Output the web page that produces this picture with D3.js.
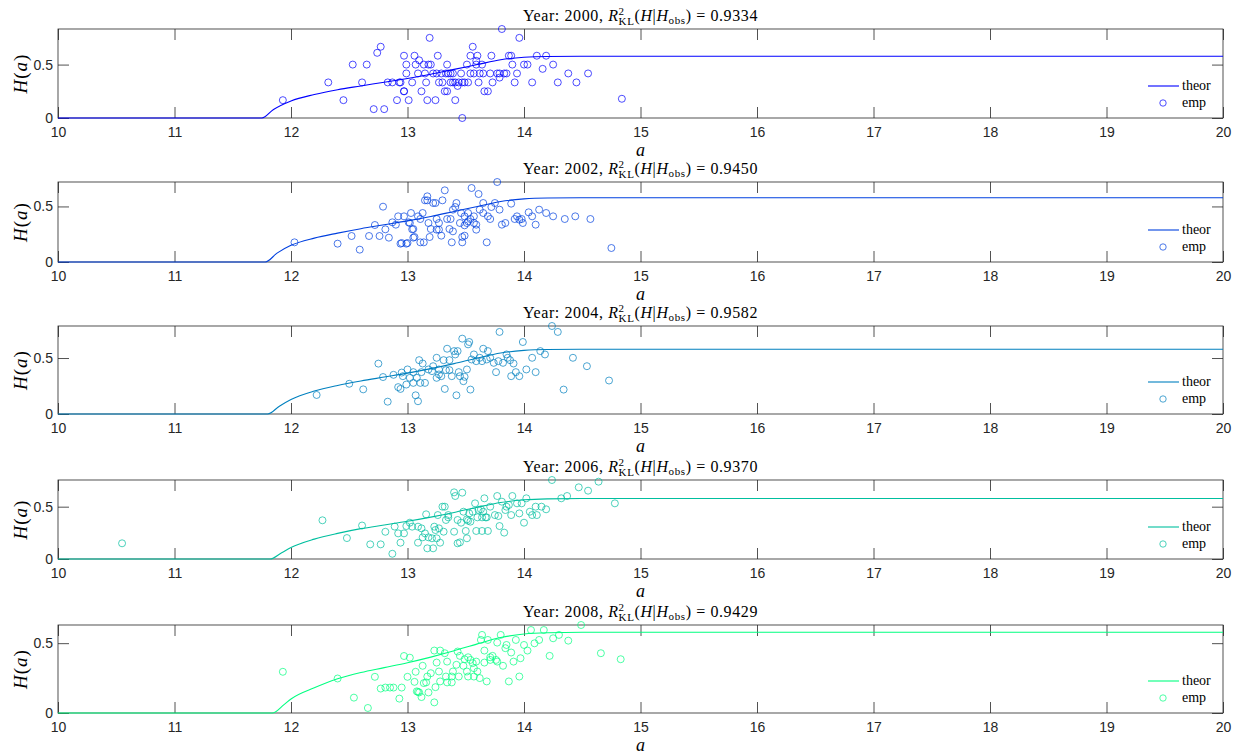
<!DOCTYPE html>
<html lang="en">
<head>
<meta charset="UTF-8">
<title>H(a) theor vs emp</title>
<script src="https://d3js.org/d3.v7.min.js"></script>
<style>
  body { margin: 0; background: white; }
  svg { display: block; }
  .tick text { font-family: "Liberation Sans", Arial, sans-serif; font-size: 14px; fill: #262626; }
  .tick line { stroke: #262626; stroke-width: 0.8; }
  .serif { font-family: "Liberation Serif", "Times New Roman", serif; fill: #000; }
</style>
</head>
<body>
<script>
// years, fit scores and colours for each panel
const years = [2000, 2002, 2004, 2006, 2008];
const r2 = ["0.9334", "0.9450", "0.9582", "0.9370", "0.9429"];
const colors = ["#0000ff", "#0040df", "#0080bf", "#00bf9f", "#00ff80"];
const xTicks = [10, 11, 12, 13, 14, 15, 16, 17, 18, 19, 20];
const yTicks = [0, 0.5];

// theoretical curves [a, H]
const theor2000 = [[10,0],[11.75,0],[11.85,0.08],[12,0.16],[12.2,0.22],[12.4,0.265],[12.6,0.30],[12.8,0.335],[13,0.37],[13.2,0.41],[13.4,0.455],[13.6,0.50],[13.8,0.545],[14,0.568],[14.2,0.576],[14.5,0.578],[15,0.578],[20,0.578]];
const theor2002 = [[10,0],[11.78,0],[11.88,0.08],[12,0.15],[12.2,0.215],[12.4,0.26],[12.6,0.30],[12.8,0.335],[13,0.37],[13.2,0.41],[13.4,0.455],[13.6,0.50],[13.8,0.545],[14,0.568],[14.2,0.576],[14.5,0.578],[15,0.578],[20,0.578]];
const theor2004 = [[10,0],[11.80,0],[11.9,0.07],[12,0.13],[12.2,0.205],[12.4,0.255],[12.6,0.295],[12.8,0.33],[13,0.365],[13.2,0.405],[13.4,0.45],[13.6,0.50],[13.8,0.545],[14,0.568],[14.2,0.576],[14.5,0.578],[15,0.578],[20,0.578]];
const theor2006 = [[10,0],[11.82,0],[11.92,0.06],[12,0.11],[12.2,0.19],[12.4,0.245],[12.6,0.29],[12.8,0.325],[13,0.36],[13.2,0.40],[13.4,0.445],[13.6,0.495],[13.8,0.54],[14,0.566],[14.2,0.575],[14.5,0.578],[15,0.578],[20,0.578]];
const theor2008 = [[10,0],[11.84,0],[11.94,0.06],[12,0.10],[12.2,0.18],[12.4,0.245],[12.6,0.29],[12.8,0.325],[13,0.36],[13.2,0.40],[13.4,0.445],[13.6,0.495],[13.8,0.54],[14,0.566],[14.2,0.575],[14.5,0.578],[15,0.578],[20,0.578]];

// empirical points [a, H]
const emp2000 = [[11.93,0.167],[12.32,0.333],[12.45,0.167],[12.53,0.5],[12.61,0.333],[12.65,0.5],[12.71,0.083],[12.74,0.61],[12.77,0.667],[12.80,0.083],[12.83,0.333],[12.87,0.333],[12.93,0.333],[12.91,0.167],[12.97,0.25],[12.97,0.583],[12.99,0.5],
  [13.81,0.833],[13.19,0.75],[13.96,0.75],[13.56,0.667],[13.06,0.583],[13.26,0.583],[13.54,0.583],[13.60,0.583],[13.72,0.583],[13.87,0.583],[13.89,0.583],[14.11,0.583],[14.19,0.583],[13.10,0.54],[13.59,0.535],
  [13.07,0.5],[13.14,0.5],[13.18,0.5],[13.20,0.5],[13.34,0.5],[13.51,0.5],[13.59,0.5],[13.64,0.5],[13.90,0.5],[14.00,0.5],[14.03,0.5],[14.25,0.5],[14.16,0.46],
  [12.99,0.417],[13.09,0.417],[13.15,0.417],[13.22,0.417],[13.25,0.417],[13.29,0.417],[13.33,0.417],[13.35,0.417],[13.37,0.417],[13.39,0.417],[13.46,0.417],[13.54,0.417],[13.57,0.417],[13.62,0.417],[13.65,0.417],[13.71,0.417],[13.77,0.417],[13.79,0.417],[13.83,0.417],[13.85,0.417],[13.94,0.417],[14.38,0.417],[14.55,0.417],
  [13.79,0.378],
  [12.94,0.333],[13.04,0.333],[13.16,0.333],[13.27,0.333],[13.30,0.333],[13.37,0.333],[13.39,0.333],[13.41,0.333],[13.44,0.333],[13.47,0.333],[13.49,0.333],[13.52,0.333],[13.61,0.333],[13.73,0.333],[13.92,0.333],[14.07,0.333],[14.29,0.333],[14.45,0.333],
  [13.43,0.30],
  [12.97,0.25],[13.12,0.25],[13.32,0.25],[13.34,0.25],[13.66,0.25],[13.69,0.25],
  [13.01,0.167],[13.17,0.167],[13.24,0.167],[13.41,0.167],[14.84,0.18],[13.47,0.0]];

const emp2002 = [[12.03,0.177],[12.40,0.165],[12.52,0.234],[12.59,0.111],[12.67,0.234],[12.72,0.333],[12.76,0.234],[12.79,0.498],[12.81,0.294],[12.84,0.219],[12.87,0.357],[12.90,0.336],[12.92,0.411],[12.94,0.165],[12.97,0.411],[12.99,0.165],[13.01,0.357],[13.03,0.441],[13.04,0.294],[13.05,0.219],
  [13.77,0.72],[13.55,0.666],[13.32,0.645],[13.61,0.612],[13.17,0.591],[13.15,0.555],[13.17,0.555],[13.30,0.555],[13.22,0.531],[13.24,0.531],[13.42,0.531],[13.65,0.531],[13.75,0.531],[13.89,0.525],[13.41,0.495],[13.72,0.495],[13.62,0.471],[13.79,0.471],[13.39,0.471],
  [13.13,0.441],[13.46,0.441],[13.52,0.441],[13.65,0.441],[14.04,0.447],[14.13,0.471],[14.19,0.441],[14.25,0.411],[14.35,0.387],[14.44,0.411],[14.57,0.387],
  [13.09,0.411],[13.25,0.387],[13.37,0.387],[13.49,0.411],[13.54,0.387],[13.57,0.411],[13.69,0.411],[13.71,0.387],[13.94,0.411],[13.98,0.387],[14.07,0.411],
  [13.02,0.351],[13.11,0.387],[13.18,0.351],[13.27,0.351],[13.34,0.387],[13.45,0.351],[13.51,0.351],[13.52,0.366],[13.57,0.351],[13.59,0.336],[13.81,0.336],[13.84,0.351],[13.92,0.387],[13.96,0.381],[13.99,0.351],[14.10,0.336],
  [13.05,0.297],[13.20,0.297],[13.25,0.291],[13.27,0.291],[13.36,0.297],[13.39,0.276],[13.49,0.33],[13.59,0.291],
  [13.06,0.225],[13.11,0.177],[13.14,0.177],[13.19,0.225],[13.29,0.237],[13.47,0.225],[13.38,0.177],[13.47,0.177],[13.49,0.237],[12.95,0.171],[13.00,0.171],[13.68,0.177],[14.75,0.126]];

const emp2004 = [[12.22,0.17],[12.50,0.27],[12.62,0.22],[12.75,0.45],[12.79,0.33],[12.83,0.11],[12.88,0.35],[12.92,0.24],[12.95,0.37],
  [14.24,0.786],[14.29,0.733],[13.79,0.733],[13.47,0.673],[13.53,0.643],[13.52,0.622],[13.99,0.643],[13.34,0.583],[13.40,0.562],[13.43,0.562],[13.41,0.532],[13.65,0.583],[13.69,0.562],[14.14,0.562],[14.18,0.532],
  [13.10,0.481],[13.13,0.451],[13.25,0.502],[13.31,0.481],[13.36,0.481],[13.57,0.532],[13.55,0.487],[13.59,0.472],[13.62,0.502],[13.64,0.472],[13.68,0.487],[13.71,0.502],[13.74,0.457],[13.78,0.472],[13.82,0.457],[13.85,0.532],[13.86,0.502],[13.88,0.481],[13.91,0.451],
  [14.07,0.502],[14.42,0.502],[14.54,0.427],[14.73,0.299],[14.34,0.218],[14.02,0.398],[14.10,0.374],
  [13.00,0.398],[13.05,0.374],[13.12,0.374],[13.18,0.398],[13.21,0.383],[13.22,0.427],[13.27,0.353],[13.27,0.398],[13.33,0.392],[13.36,0.392],[13.44,0.374],[13.45,0.338],[13.49,0.332],[13.51,0.398],[13.48,0.293],
  [12.96,0.338],[13.02,0.323],[13.08,0.323],[13.05,0.278],[13.11,0.278],[13.15,0.278],[13.25,0.323],[13.29,0.338],[13.38,0.338],
  [12.94,0.224],[12.99,0.263],[13.32,0.224],[13.54,0.218],[13.42,0.167],[13.07,0.167],[13.09,0.114],[13.76,0.374],[13.89,0.338],[13.96,0.338],[13.93,0.374]];

const emp2006 = [[10.55,0.15],[12.27,0.37],[12.48,0.20],[12.61,0.32],[12.68,0.14],[12.77,0.14],[12.81,0.26],[12.87,0.05],[12.89,0.31],
  [14.24,0.755],[14.64,0.739],[14.47,0.685],[14.55,0.653],[14.32,0.58],[14.37,0.602],[14.78,0.532],[13.40,0.637],[13.41,0.602],[13.47,0.634],[13.30,0.50],[13.32,0.50],
  [13.66,0.58],[13.77,0.602],[13.81,0.548],[13.90,0.602],[13.94,0.532],[13.98,0.532],[14.02,0.58],[13.58,0.532],[13.63,0.475],[13.71,0.50],[13.85,0.50],[13.87,0.516],
  [14.10,0.50],[14.15,0.50],[14.19,0.475],[14.05,0.452],[14.07,0.42],[14.11,0.42],
  [13.16,0.427],[13.26,0.42],[13.35,0.42],[13.48,0.452],[13.53,0.436],[13.56,0.452],[13.61,0.468],[13.65,0.452],[13.68,0.398],[13.75,0.42],[13.84,0.468],
  [13.33,0.373],[13.35,0.398],[13.43,0.373],[13.51,0.379],[13.54,0.357],[13.60,0.398],[13.64,0.398],[13.67,0.398],[13.78,0.411],[13.89,0.42],[13.96,0.436],
  [13.02,0.347],[13.04,0.309],[13.09,0.309],[13.12,0.293],[13.15,0.245],[13.23,0.309],[13.24,0.277],[13.27,0.293],[13.31,0.261],[13.40,0.261],[13.46,0.347],[13.52,0.366],
  [12.92,0.245],[12.97,0.245],[12.99,0.315],[13.13,0.207],[13.18,0.207],[13.21,0.198],[13.25,0.198],[13.28,0.156],[13.09,0.156],
  [13.50,0.268],[13.59,0.268],[13.64,0.268],[13.69,0.268],[13.79,0.315],[13.83,0.252],[14.00,0.347],
  [13.17,0.102],[13.22,0.102],[13.43,0.15],[13.45,0.159],[13.51,0.198],[12.94,0.156]];

const emp2008 = [[11.93,0.295],[12.40,0.247],[12.54,0.11],[12.66,0.036],[12.72,0.259],[12.77,0.175],[12.81,0.182],[12.85,0.182],[12.88,0.182],[12.95,0.182],[12.93,0.103],[12.97,0.408],[13.02,0.396],[13.00,0.259],[13.06,0.223],[13.07,0.295],[13.09,0.151],
  [14.49,0.63],[14.06,0.594],[14.17,0.594],[13.64,0.559],[13.80,0.559],[13.63,0.523],[13.69,0.523],[13.77,0.504],[13.85,0.487],[13.84,0.464],[13.93,0.523],
  [14.00,0.487],[14.03,0.447],[14.09,0.499],[14.13,0.523],[14.25,0.535],[14.30,0.559],[14.38,0.518],[14.66,0.428],[14.83,0.385],[14.22,0.409],
  [13.23,0.447],[13.28,0.447],[13.43,0.44],[13.66,0.447],[13.73,0.409],[13.71,0.399],[13.77,0.368],[13.89,0.433],[13.91,0.368],[13.97,0.392],
  [13.32,0.428],[13.45,0.409],[13.49,0.385],[13.52,0.399],[13.54,0.38],[13.59,0.368],[13.34,0.368],
  [13.13,0.338],[13.25,0.361],[13.42,0.345],[13.48,0.338],[13.56,0.357],[13.66,0.361],[13.71,0.38],[13.76,0.38],[13.82,0.338],
  [13.20,0.285],[13.27,0.297],[13.39,0.297],[13.51,0.297],[13.57,0.321],[13.60,0.297],
  [13.17,0.261],[13.33,0.261],[13.38,0.261],[13.44,0.261],[13.52,0.261],[13.57,0.261],[13.62,0.25],
  [13.14,0.214],[13.16,0.219],[13.28,0.226],[13.34,0.219],[13.38,0.219],[13.68,0.226],[13.87,0.226],[13.96,0.261],
  [13.24,0.185],[13.18,0.147],[13.08,0.155],[13.10,0.147],[13.12,0.114],[13.23,0.076]];

const theorAll = [theor2000, theor2002, theor2004, theor2006, theor2008];
const empAll = [emp2000, emp2002, emp2004, emp2006, emp2008];

// layout
const W = 1249, H = 755;
const left = 58, right = 1223;
const tops = [29, 182, 326, 480, 625];
const bottoms = [118, 262, 414, 559, 713];
const tick = 11;

const svg = d3.select("body").append("svg")
  .attr("width", W).attr("height", H);
svg.append("rect").attr("width", W).attr("height", H).attr("fill", "white");

years.forEach((yr, i) => {
  const top = tops[i], bot = bottoms[i], col = colors[i];
  const emp = empAll[i];
  const x = d3.scaleLinear().domain([10, 20]).range([left, right]);
  const y = d3.scaleLinear().domain([0, d3.max(emp, d => d[1])]).range([bot, top]);
  const g = svg.append("g");

  // axes (ticks inward, box on)
  g.append("g").attr("transform", `translate(0,${bot})`)
    .call(d3.axisBottom(x).tickValues(xTicks).tickFormat(d3.format("d")).tickSizeInner(-tick).tickSizeOuter(0).tickPadding(9))
    .call(a => a.select(".domain").remove());
  g.append("g").attr("transform", `translate(0,${top})`)
    .call(d3.axisTop(x).tickValues(xTicks).tickFormat("").tickSizeInner(-tick).tickSizeOuter(0))
    .call(a => a.select(".domain").remove());
  g.append("g").attr("transform", `translate(${left},0)`)
    .call(d3.axisLeft(y).tickValues(yTicks).tickFormat(d => d === 0 ? "0" : d3.format(".1f")(d)).tickSizeInner(-tick).tickSizeOuter(0).tickPadding(5))
    .call(a => a.select(".domain").remove());
  g.append("g").attr("transform", `translate(${right},0)`)
    .call(d3.axisRight(y).tickValues(yTicks).tickFormat("").tickSizeInner(-tick).tickSizeOuter(0))
    .call(a => a.select(".domain").remove());
  g.selectAll(".tick text").attr("font-family", null).attr("font-size", null);

  g.append("rect").attr("x", left).attr("y", top)
    .attr("width", right - left).attr("height", bot - top)
    .attr("fill", "none").attr("stroke", "#262626").attr("stroke-width", 0.8);

  // theoretical line
  const line = d3.line().x(d => x(d[0])).y(d => y(d[1])).curve(d3.curveMonotoneX);
  g.append("path").datum(theorAll[i]).attr("d", line)
    .attr("fill", "none").attr("stroke", col).attr("stroke-width", 1.1);

  // empirical scatter
  g.selectAll("circle.emp").data(emp).join("circle").attr("class", "emp")
    .attr("cx", d => x(d[0])).attr("cy", d => y(d[1])).attr("r", 3.5)
    .attr("fill", "none").attr("stroke", col).attr("stroke-width", 0.7);

  // title
  const t = g.append("text").attr("class", "serif").attr("x", (left + right) / 2).attr("y", top - 8)
    .attr("text-anchor", "middle").attr("font-size", 16).attr("letter-spacing", 0.6);
  t.append("tspan").text(`Year: ${yr}, `);
  t.append("tspan").attr("font-style", "italic").text("R");
  t.append("tspan").attr("font-size", 11).attr("dy", -6).text("2");
  t.append("tspan").attr("font-size", 11).attr("dx", -6).attr("dy", 10).text("KL");
  t.append("tspan").attr("dy", -4).text("(");
  t.append("tspan").attr("font-style", "italic").text("H");
  t.append("tspan").text("|");
  t.append("tspan").attr("font-style", "italic").text("H");
  t.append("tspan").attr("font-size", 11).attr("dy", 3).text("obs");
  t.append("tspan").attr("dy", -3).text(`)  =  ${r2[i]}`);

  // y label
  const yl = g.append("text").attr("class", "serif").attr("font-size", 19)
    .attr("text-anchor", "middle").attr("letter-spacing", 1)
    .attr("transform", `translate(27,${(top + bot) / 2}) rotate(-90)`);
  yl.append("tspan").attr("font-style", "italic").text("H");
  yl.append("tspan").text("(");
  yl.append("tspan").attr("font-style", "italic").text("a");
  yl.append("tspan").text(")");

  // x label
  g.append("text").attr("class", "serif").attr("font-size", 18).attr("font-style", "italic")
    .attr("x", (left + right) / 2).attr("y", bot + 38).attr("text-anchor", "middle").text("a");

  // legend
  const ly1 = bot - 32, ly2 = bot - 15;
  g.append("line").attr("x1", 1148).attr("x2", 1179).attr("y1", ly1).attr("y2", ly1)
    .attr("stroke", col).attr("stroke-width", 1.1);
  g.append("circle").attr("cx", 1163).attr("cy", ly2).attr("r", 3.2)
    .attr("fill", "none").attr("stroke", col).attr("stroke-width", 0.7);
  g.append("text").attr("class", "serif").attr("font-size", 14).attr("x", 1182).attr("y", ly1).attr("dy", "0.32em").text("theor");
  g.append("text").attr("class", "serif").attr("font-size", 14).attr("x", 1182).attr("y", ly2).attr("dy", "0.32em").text("emp");
});
</script>
</body>
</html>
